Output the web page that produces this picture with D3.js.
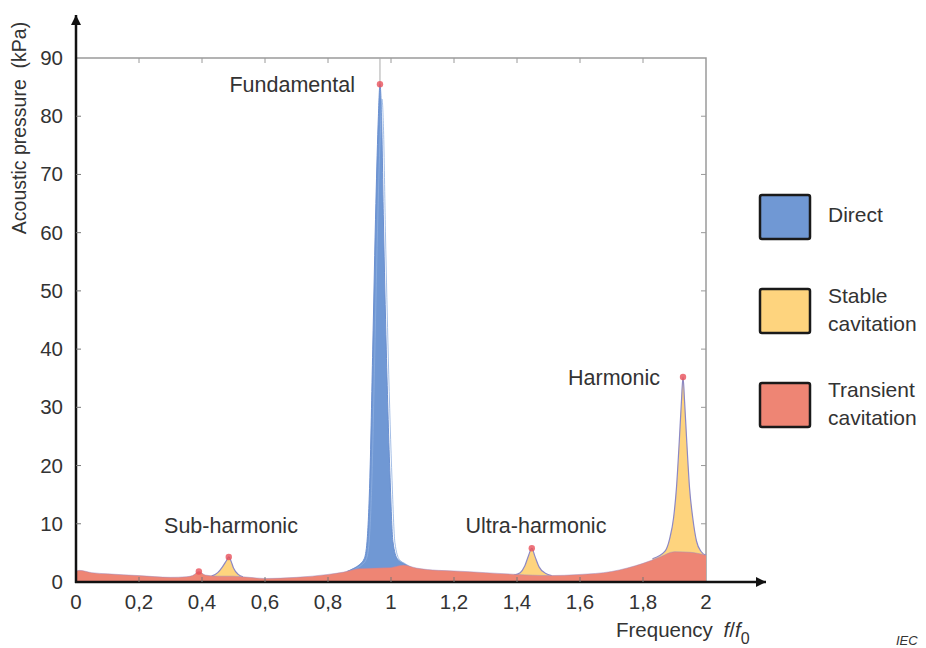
<!DOCTYPE html>
<html>
<head>
<meta charset="utf-8">
<script src="https://cdn.jsdelivr.net/npm/d3@7"></script>
<style>
  body { margin: 0; background: #fff; }
  text { font-family: "Liberation Sans", Arial, sans-serif; fill: #333; }
</style>
</head>
<body>
<svg id="vis"></svg>
<script>
// Datos
const xTicks = [0, 0.2, 0.4, 0.6, 0.8, 1, 1.2, 1.4, 1.6, 1.8, 2];
const yTicks = [0, 10, 20, 30, 40, 50, 60, 70, 80, 90];

// Cavitacion transitoria (fondo rojo)
const transientFreq = [0, 0.01, 0.05, 0.1, 0.2, 0.3, 0.35, 0.37, 0.39, 0.41, 0.45, 0.5, 0.55, 0.6, 0.7, 0.8, 0.85, 0.9, 0.95, 1.0, 1.04, 1.08, 1.15, 1.2, 1.3, 1.4, 1.5, 1.6, 1.7, 1.75, 1.8, 1.85, 1.9, 1.95, 2.0];
const transientVal  = [1.8, 2.0, 1.6, 1.4, 1.1, 0.8, 0.9, 1.1, 1.8, 1.2, 1.0, 1.0, 0.8, 0.6, 0.8, 1.3, 1.7, 2.3, 2.4, 2.5, 2.9, 2.4, 2.0, 1.9, 1.6, 1.3, 1.1, 1.3, 1.8, 2.4, 3.2, 4.2, 5.2, 5.1, 4.6];

// Cavitacion estable (picos amarillos)
const subFreq   = [0.43, 0.45, 0.465, 0.478, 0.485, 0.492, 0.5, 0.515, 0.53];
const subVal    = [1.0, 1.6, 2.6, 3.7, 4.3, 3.6, 2.4, 1.3, 0.9];
const ultraFreq = [1.39, 1.41, 1.425, 1.437, 1.447, 1.457, 1.47, 1.49, 1.51];
const ultraVal  = [1.2, 1.6, 2.8, 4.6, 5.8, 4.4, 2.6, 1.5, 1.1];
const harmFreq  = [1.83, 1.87, 1.885, 1.897, 1.906, 1.915, 1.922, 1.927, 1.932, 1.939, 1.948, 1.958, 1.97, 1.985, 2.0];
const harmVal   = [4.0, 5.3, 7.5, 11, 16, 24, 31, 35.2, 31, 24, 16, 11, 7, 5.2, 4.6];

// Directo (fundamental, azul)
const directFreq = [0.86, 0.88, 0.9, 0.915, 0.924, 0.933, 0.942, 0.952, 0.96, 0.965, 0.97, 0.976, 0.985, 0.997, 1.006, 1.02, 1.04, 1.06];
const directVal  = [1.8, 2.3, 3.0, 4.0, 7, 18, 40, 65, 80, 85.5, 80, 62, 40, 18, 7, 4.0, 3.2, 2.5];

// Puntos rojos sobre los picos
const peakFreq = [0.39, 0.485, 0.965, 1.447, 1.927];
const peakVal  = [1.8, 4.3, 85.5, 5.8, 35.2];

const seriesNames  = ["Direct", "Stable\ncavitation", "Transient\ncavitation"];
const seriesColors = ["#7098d4", "#fed47e", "#ee8574"];

const annotations = [
    { text: "Fundamental", x: 0.965, y: 85.5, dx: -25, dy: 8, anchor: "end" },
    { text: "Harmonic", x: 1.927, y: 35.2, dx: -23, dy: 8, anchor: "end" },
    { text: "Sub-harmonic", x: 0.492, y: 8.5, dx: 0, dy: 0, anchor: "middle" },
    { text: "Ultra-harmonic", x: 1.46, y: 8.5, dx: 0, dy: 0, anchor: "middle" },
];

const WIDTH = 926;
const HEIGHT = 648;
const MARGIN = { top: 58, left: 76, right: 220, bottom: 66 };
const WIDTHVIS = WIDTH - MARGIN.left - MARGIN.right;   // 630
const HEIGHTVIS = HEIGHT - MARGIN.top - MARGIN.bottom; // 524

const svg = d3.select("#vis")
    .attr("width", WIDTH)
    .attr("height", HEIGHT);

const x = d3.scaleLinear().domain([0, 2]).range([MARGIN.left, MARGIN.left + WIDTHVIS]);
const y = d3.scaleLinear().domain([0, 90]).range([MARGIN.top + HEIGHTVIS, MARGIN.top]);

// Marco gris (arriba y derecha)
svg.append("path")
    .attr("d", `M${x(0)},${y(90)} H${x(2)} V${y(0)}`)
    .attr("fill", "none")
    .attr("stroke", "#9a9a9a")
    .attr("stroke-width", 1.5);

svg.append("g").selectAll("line")
    .data(xTicks.slice(1, -1))
    .join("line")
    .attr("x1", d => x(d)).attr("x2", d => x(d))
    .attr("y1", y(90)).attr("y2", y(90) + 5)
    .attr("stroke", "#9a9a9a");

svg.append("g").selectAll("line")
    .data(yTicks.slice(1, -1))
    .join("line")
    .attr("x1", x(2)).attr("x2", x(2) - 5)
    .attr("y1", d => y(d)).attr("y2", d => y(d))
    .attr("stroke", "#9a9a9a");

// linea gris fina sobre el pico fundamental
svg.append("line")
    .attr("x1", x(peakFreq[2])).attr("x2", x(peakFreq[2]))
    .attr("y1", y(90)).attr("y2", y(peakVal[2]))
    .attr("stroke", "#aaa")
    .attr("stroke-width", 1);

const pts = (fs, vs) => fs.map((f, i) => [f, vs[i]]);

const area = d3.area()
    .x(d => x(d[0]))
    .y0(y(0))
    .y1(d => y(d[1]))
    .curve(d3.curveMonotoneX);

const line = d3.line()
    .x(d => x(d[0]))
    .y(d => y(d[1]))
    .curve(d3.curveMonotoneX);

const plot = svg.append("g");

// Directo
plot.append("path")
    .attr("d", area(pts(directFreq, directVal)))
    .attr("fill", seriesColors[0]);
plot.append("path")
    .attr("d", line(pts(directFreq, directVal)))
    .attr("fill", "none")
    .attr("stroke", "#6a8fd0")
    .attr("stroke-width", 1);
// trazas superpuestas dentro del pico
plot.append("path")
    .attr("d", line(pts(directFreq, directVal.map(v => v * 0.97))))
    .attr("fill", "none")
    .attr("stroke", "#8eaee0")
    .attr("stroke-width", 0.8)
    .attr("transform", "translate(2,0)");

// Cavitacion estable
[[subFreq, subVal], [ultraFreq, ultraVal], [harmFreq, harmVal]].forEach(([fs, vs]) => {
    plot.append("path")
        .attr("d", area(pts(fs, vs)))
        .attr("fill", seriesColors[1]);
    plot.append("path")
        .attr("d", line(pts(fs, vs)))
        .attr("fill", "none")
        .attr("stroke", "#8c88c4")
        .attr("stroke-width", 1.2);
});

// Cavitacion transitoria
plot.append("path")
    .attr("d", area(pts(transientFreq, transientVal)))
    .attr("fill", seriesColors[2]);
plot.append("path")
    .attr("d", line(pts(transientFreq, transientVal)))
    .attr("fill", "none")
    .attr("stroke", "#9a8ac0")
    .attr("stroke-width", 0.8)
    .attr("opacity", 0.6);

// Puntos de pico
plot.selectAll("circle")
    .data(pts(peakFreq, peakVal))
    .join("circle")
    .attr("cx", d => x(d[0]))
    .attr("cy", d => y(d[1]))
    .attr("r", 3.2)
    .attr("fill", "#e8505a")
    .attr("opacity", 0.8);

// Ejes con flecha
svg.append("defs").append("marker")
    .attr("id", "arrow")
    .attr("viewBox", "0 0 10 10")
    .attr("refX", 10).attr("refY", 5)
    .attr("markerWidth", 16).attr("markerHeight", 10)
    .attr("markerUnits", "userSpaceOnUse")
    .attr("orient", "auto")
    .append("path")
    .attr("d", "M0,0 L10,5 L0,10 Z")
    .attr("fill", "#111");

svg.append("line")
    .attr("x1", x(0)).attr("y1", y(0) + 1)
    .attr("x2", x(0)).attr("y2", 15)
    .attr("stroke", "#111").attr("stroke-width", 2.5)
    .attr("marker-end", "url(#arrow)");

svg.append("line")
    .attr("x1", x(0) - 1).attr("y1", y(0))
    .attr("x2", 766).attr("y2", y(0))
    .attr("stroke", "#111").attr("stroke-width", 2.5)
    .attr("marker-end", "url(#arrow)");

// Marcas de ejes
svg.append("g").selectAll("line")
    .data(xTicks.slice(1, -1))
    .join("line")
    .attr("x1", d => x(d)).attr("x2", d => x(d))
    .attr("y1", y(0)).attr("y2", y(0) - 5)
    .attr("stroke", "#777");

svg.append("g").selectAll("line")
    .data(yTicks.slice(1, -1))
    .join("line")
    .attr("x1", x(0)).attr("x2", x(0) + 5)
    .attr("y1", d => y(d)).attr("y2", d => y(d))
    .attr("stroke", "#777");

const fmt = d => String(d).replace(".", ",");

svg.append("g").selectAll("text")
    .data(xTicks)
    .join("text")
    .attr("x", d => x(d))
    .attr("y", y(0) + 27)
    .attr("text-anchor", "middle")
    .attr("font-size", 20.5)
    .text(fmt);

svg.append("g").selectAll("text")
    .data(yTicks)
    .join("text")
    .attr("x", x(0) - 13)
    .attr("y", d => y(d) + 7)
    .attr("text-anchor", "end")
    .attr("font-size", 20.5)
    .text(d => d);

// Titulos de ejes
svg.append("text")
    .attr("transform", "translate(26,128) rotate(-90)")
    .attr("text-anchor", "middle")
    .attr("font-size", 19.5)
    .attr("xml:space", "preserve")
    .text("Acoustic pressure  (kPa)");

const xTitle = svg.append("text")
    .attr("x", 616)
    .attr("y", 637)
    .attr("font-size", 20.5);
xTitle.append("tspan").text("Frequency ");
xTitle.append("tspan").attr("font-style", "italic").attr("dx", 5).text("f");
xTitle.append("tspan").text("/");
xTitle.append("tspan").attr("font-style", "italic").text("f");
xTitle.append("tspan").attr("dy", 7).attr("font-size", 16).text("0");

svg.append("text")
    .attr("x", 896)
    .attr("y", 645)
    .attr("font-size", 13)
    .attr("font-style", "italic")
    .text("IEC");

// Anotaciones
svg.append("g").selectAll("text")
    .data(annotations)
    .join("text")
    .attr("x", d => x(d.x) + d.dx)
    .attr("y", d => y(d.y) + d.dy)
    .attr("text-anchor", d => d.anchor)
    .attr("font-size", 21.5)
    .text(d => d.text);

// Leyenda
const legend = svg.append("g").attr("transform", "translate(760,195)");
const item = legend.selectAll("g")
    .data(seriesNames)
    .join("g")
    .attr("transform", (d, i) => `translate(0, ${i * 94})`);

item.append("rect")
    .attr("width", 50)
    .attr("height", 44)
    .attr("rx", 2)
    .attr("fill", (d, i) => seriesColors[i])
    .attr("stroke", "#1a1a1a")
    .attr("stroke-width", 2.5);

item.append("text")
    .attr("y", (d) => d.includes("\n") ? 14 : 27)
    .attr("font-size", 21)
    .selectAll("tspan")
    .data(d => d.split("\n"))
    .join("tspan")
    .attr("x", 68)
    .attr("dy", (d, i) => i === 0 ? 0 : 28)
    .text(d => d);
</script>
</body>
</html>
